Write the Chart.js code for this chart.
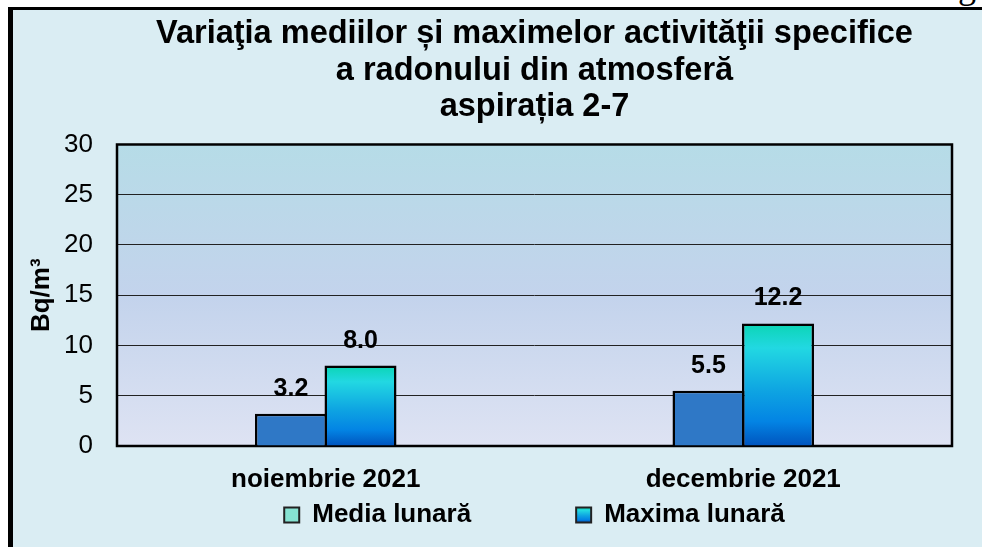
<!DOCTYPE html>
<html>
<head>
<meta charset="utf-8">
<script src="https://cdn.jsdelivr.net/npm/chart.js@4.4.1/dist/chart.umd.min.js"></script>
<style>
  html, body { margin: 0; padding: 0; background: #ffffff; }
  body { width: 982px; height: 547px; overflow: hidden; position: relative; }
  #panel { position: absolute; left: 8px; top: 7px; right: 0; bottom: 0;
           background: #DAEDF3; border-left: 5px solid #000; border-top: 3px solid #000; }
  #stray { position: absolute; left: 958px; top: -32px; font: 36px/36px "Liberation Serif", "Times New Roman", serif; color: #000; }
  #c { position: absolute; left: 0; top: 0; }
</style>
</head>
<body>
<div id="panel"></div>
<div id="stray">g</div>
<canvas id="c" width="982" height="547"></canvas>
<script>
// ---- data ----
const categories = ['noiembrie 2021', 'decembrie 2021'];
const seriesNames = ['Media lunară', 'Maxima lunară'];
const mediaLunara = [3.2, 5.5];
const maximaLunara = [8.0, 12.2];
const yMin = 0, yMax = 30, yStep = 5;
const titleLines = ['Variaţia mediilor și maximelor activităţii specifice', 'a radonului din atmosferă', 'aspirația 2-7'];
const yTitle = 'Bq/m³';

// ---- styles ----
const FONT = 'Arial, "Liberation Sans", Helvetica, sans-serif';
const mediaColor = '#2F78C6';
const mediaLegendColor = '#86E3D2';
const maxStops = [[0, '#0BD5B4'], [0.2, '#22D8E2'], [0.55, '#0EA4E2'], [0.8, '#0384E4'], [1, '#0054BE']];
const legendRowGap = 4;
const valueLabelGap = 18;

function maxGradient(ctx, y0, y1) {
  const g = ctx.createLinearGradient(0, y0, 0, y1);
  maxStops.forEach(([o, c]) => g.addColorStop(o, c));
  return g;
}

function maximaBarFill(c) {
  const chart = c.chart, ys = chart.scales.y;
  if (c.type !== 'data' || !ys || !c.parsed) return '#10B0E2';
  const top = ys.getPixelForValue(c.parsed.y);
  const base = ys.getPixelForValue(0);
  if (!isFinite(top) || !isFinite(base) || top === base) return '#10B0E2';
  return maxGradient(chart.ctx, top, base);
}

const plotBackground = {
  id: 'plotBackground',
  beforeDraw(chart) {
    const { ctx, chartArea: a } = chart;
    const g = ctx.createLinearGradient(0, a.top, 0, a.bottom);
    g.addColorStop(0, '#B6DCE7');
    g.addColorStop(0.5, '#C3D3EC');
    g.addColorStop(1, '#DEE3F3');
    ctx.save();
    ctx.fillStyle = g;
    ctx.fillRect(a.left, a.top, a.right - a.left, a.bottom - a.top);
    ctx.restore();
  },
  beforeDatasetsDraw(chart) {
    const { ctx, chartArea: a } = chart;
    ctx.save();
    ctx.strokeStyle = '#000';
    ctx.lineWidth = 2.5;
    ctx.strokeRect(a.left, a.top, a.right - a.left, a.bottom - a.top);
    ctx.restore();
  }
};

const valueLabels = {
  id: 'valueLabels',
  afterDatasetsDraw(chart) {
    const ctx = chart.ctx;
    ctx.save();
    ctx.font = 'bold 25px ' + FONT;
    ctx.fillStyle = '#000';
    ctx.textAlign = 'center';
    ctx.textBaseline = 'alphabetic';
    chart.data.datasets.forEach((ds, i) => {
      const meta = chart.getDatasetMeta(i);
      if (meta.hidden) return;
      meta.data.forEach((el, j) => {
        ctx.fillText(Number(ds.data[j]).toFixed(1), el.x, el.y - valueLabelGap);
      });
    });
    ctx.restore();
  }
};

// compact legend: keep wide horizontal spacing but place the row just under the axis labels
const compactLegend = {
  id: 'compactLegend',
  afterLayout(chart) {
    const lg = chart.legend, xs = chart.scales.x;
    if (!lg || !xs) return;
    const pad = lg.options.labels.padding;
    lg.top = xs.bottom + legendRowGap - pad;
  }
};

new Chart(document.getElementById('c'), {
  type: 'bar',
  data: {
    labels: categories,
    datasets: [
      { label: seriesNames[0], data: mediaLunara, backgroundColor: mediaColor,
        borderColor: '#000', borderWidth: 2.5 },
      { label: seriesNames[1], data: maximaLunara, backgroundColor: maximaBarFill,
        borderColor: '#000', borderWidth: 2.5 }
    ]
  },
  plugins: [plotBackground, valueLabels, compactLegend],
  options: {
    responsive: false,
    animation: false,
    devicePixelRatio: 1,
    categoryPercentage: 0.333,
    barPercentage: 1.036,
    layout: { padding: { left: 20, right: 30, top: 10, bottom: 9 } },
    scales: {
      x: {
        grid: { display: false },
        border: { display: false },
        ticks: { color: '#000', font: { family: FONT, size: 26, weight: 'bold' }, padding: 10 },
        afterFit(s) { s.height = 52; }
      },
      y: {
        min: yMin, max: yMax,
        grid: { color: '#222', lineWidth: 1, drawTicks: false },
        border: { display: false },
        ticks: { stepSize: yStep, color: '#000', font: { family: FONT, size: 26 }, padding: 24 },
        title: { display: true, text: yTitle, color: '#000',
                 font: { family: FONT, size: 26, weight: 'bold' }, padding: { top: 6, bottom: 0 } },
        afterFit(s) { s.width = 97; }
      }
    },
    plugins: {
      title: {
        display: true, fullSize: false,
        text: titleLines, color: '#000',
        font: { family: FONT, size: 32.5, weight: 'bold', lineHeight: 1.123 },
        padding: { top: 6, bottom: 19 }
      },
      legend: {
        position: 'bottom', fullSize: false, maxHeight: 40,
        labels: {
          boxWidth: 15, boxHeight: 15, padding: 105, color: '#000',
          font: { family: FONT, size: 26, weight: 'bold' },
          generateLabels(chart) {
            const lg = chart.legend;
            let maxFill = '#14B4E4';
            if (lg && isFinite(lg.top)) {
              const fs = 26, bh = 15;
              const y0 = lg.top + lg.options.labels.padding + (fs - bh) / 2;
              maxFill = maxGradient(chart.ctx, y0, y0 + bh);
            }
            const fills = [mediaLegendColor, maxFill];
            return seriesNames.map((t, i) => ({
              text: t, fillStyle: fills[i], strokeStyle: '#222', lineWidth: 2,
              fontColor: '#000', hidden: !chart.isDatasetVisible(i), datasetIndex: i
            }));
          }
        }
      },
      tooltip: { enabled: false }
    }
  }
});
</script>
</body>
</html>
